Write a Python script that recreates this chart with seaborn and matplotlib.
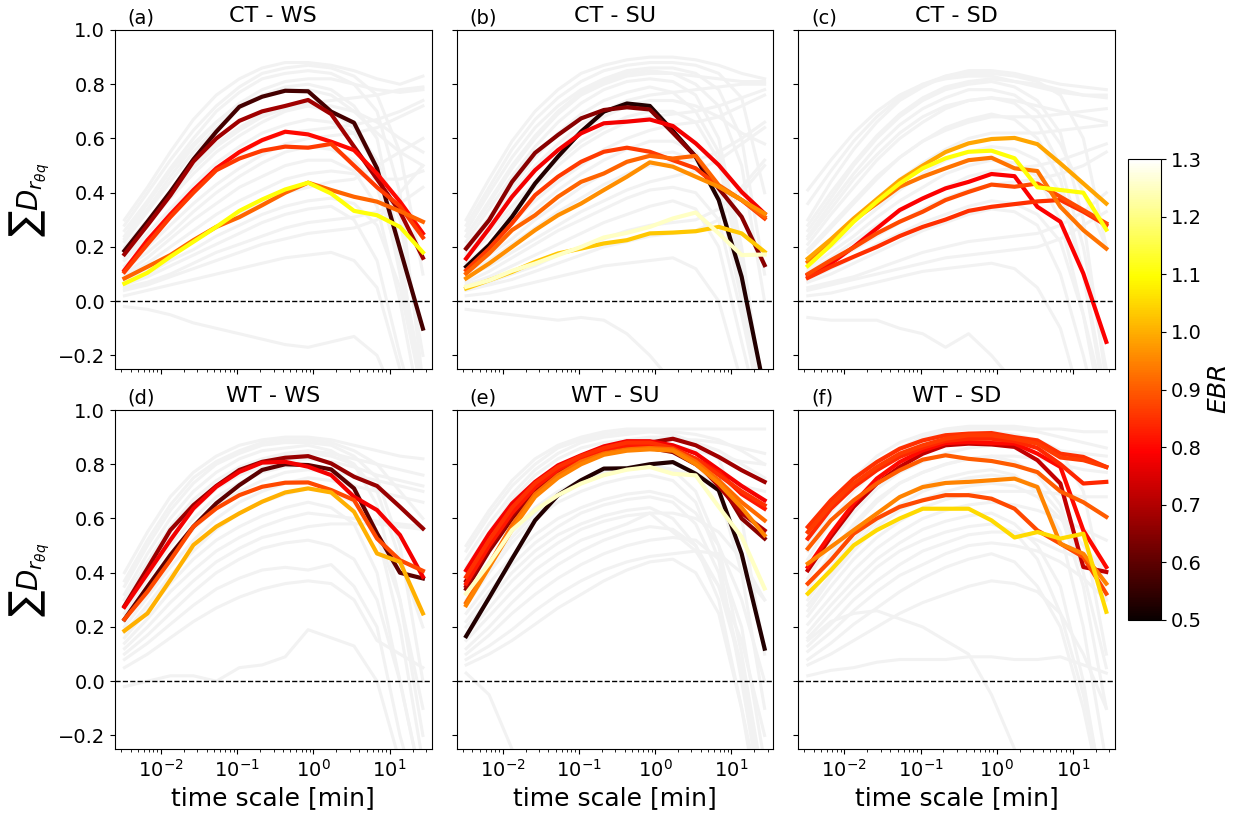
import matplotlib
matplotlib.use("Agg")
import matplotlib.pyplot as plt
import numpy as np
import pandas as pd
import seaborn as sns
from matplotlib.colors import Normalize
from matplotlib.cm import ScalarMappable

# averaging time scales (minutes)
time_scale = [0.00333, 0.00667, 0.0133, 0.0267, 0.0533, 0.107, 0.213,
              0.427, 0.853, 1.71, 3.41, 6.83, 13.65, 27.3]

titles = ["CT - WS", "CT - SU", "CT - SD", "WT - WS", "WT - SU", "WT - SD"]
panel_tags = ["(a)", "(b)", "(c)", "(d)", "(e)", "(f)"]
cbar_ticks = [0.5, 0.6, 0.7, 0.8, 0.9, 1.0, 1.1, 1.2, 1.3]
y_ticks = [-0.2, 0.0, 0.2, 0.4, 0.6, 0.8, 1.0]

# ---- all runs (background) ----
runs_ct_ws = [
    [0.30, 0.42, 0.55, 0.67, 0.76, 0.82, 0.86, 0.88, 0.88, 0.87, 0.85, 0.82, 0.80, 0.83],
    [0.26, 0.37, 0.49, 0.60, 0.70, 0.77, 0.82, 0.84, 0.85, 0.84, 0.80, 0.70, 0.40, -0.30],
    [0.22, 0.33, 0.44, 0.55, 0.64, 0.71, 0.76, 0.79, 0.80, 0.78, 0.72, 0.60, 0.20, -0.40],
    [0.20, 0.30, 0.40, 0.50, 0.58, 0.64, 0.69, 0.72, 0.73, 0.74, 0.75, 0.76, 0.78, 0.79],
    [0.16, 0.25, 0.34, 0.43, 0.51, 0.57, 0.62, 0.65, 0.67, 0.66, 0.62, 0.50, 0.10, -0.35],
    [0.13, 0.20, 0.28, 0.36, 0.43, 0.49, 0.54, 0.58, 0.60, 0.61, 0.62, 0.64, 0.68, 0.72],
    [0.10, 0.16, 0.23, 0.30, 0.36, 0.42, 0.46, 0.50, 0.52, 0.52, 0.48, 0.35, 0.00, -0.45],
    [0.08, 0.12, 0.17, 0.22, 0.27, 0.32, 0.36, 0.40, 0.42, 0.44, 0.45, 0.50, 0.55, 0.60],
    [0.06, 0.09, 0.13, 0.17, 0.21, 0.25, 0.29, 0.32, 0.34, 0.35, 0.30, 0.15, -0.20, -0.50],
    [0.04, 0.06, 0.09, 0.12, 0.15, 0.18, 0.21, 0.23, 0.25, 0.26, 0.27, 0.30, 0.40, 0.50],
    [0.02, 0.04, 0.06, 0.08, 0.10, 0.12, 0.14, 0.16, 0.17, 0.18, 0.15, 0.05, -0.25, -0.60],
    [-0.02, -0.03, -0.05, -0.08, -0.10, -0.12, -0.14, -0.16, -0.17, -0.15, -0.13, -0.20, -0.40, -0.60],
    [0.24, 0.36, 0.48, 0.58, 0.66, 0.72, 0.76, 0.78, 0.78, 0.76, 0.70, 0.62, 0.55, 0.50],
    [0.18, 0.28, 0.38, 0.47, 0.55, 0.61, 0.66, 0.70, 0.72, 0.72, 0.70, 0.66, 0.60, 0.55],
    [0.28, 0.40, 0.52, 0.63, 0.72, 0.79, 0.84, 0.86, 0.87, 0.86, 0.83, 0.76, 0.55, 0.10],
    [0.23, 0.34, 0.46, 0.57, 0.66, 0.73, 0.78, 0.81, 0.82, 0.82, 0.80, 0.78, 0.77, 0.78],
    [0.19, 0.29, 0.39, 0.49, 0.57, 0.63, 0.68, 0.71, 0.72, 0.70, 0.64, 0.52, 0.30, -0.20],
    [0.15, 0.23, 0.31, 0.40, 0.48, 0.54, 0.59, 0.62, 0.63, 0.64, 0.65, 0.67, 0.70, 0.74],
    [0.12, 0.18, 0.25, 0.33, 0.40, 0.46, 0.51, 0.55, 0.57, 0.56, 0.52, 0.42, 0.15, -0.30],
    [0.09, 0.14, 0.20, 0.26, 0.32, 0.37, 0.41, 0.45, 0.47, 0.48, 0.47, 0.45, 0.45, 0.48],
    [0.07, 0.10, 0.15, 0.19, 0.24, 0.28, 0.32, 0.35, 0.37, 0.38, 0.36, 0.28, 0.05, -0.35],
    [0.05, 0.07, 0.10, 0.14, 0.18, 0.21, 0.24, 0.27, 0.29, 0.30, 0.31, 0.33, 0.36, 0.42],
]
runs_ct_su = [
    [0.30, 0.45, 0.59, 0.70, 0.78, 0.84, 0.87, 0.89, 0.90, 0.90, 0.89, 0.87, 0.84, 0.82],
    [0.26, 0.40, 0.53, 0.64, 0.72, 0.78, 0.82, 0.85, 0.86, 0.86, 0.84, 0.78, 0.60, 0.10],
    [0.22, 0.34, 0.46, 0.57, 0.66, 0.73, 0.78, 0.81, 0.82, 0.81, 0.76, 0.60, 0.20, -0.40],
    [0.20, 0.30, 0.40, 0.50, 0.58, 0.65, 0.70, 0.74, 0.76, 0.77, 0.78, 0.79, 0.80, 0.80],
    [0.17, 0.26, 0.35, 0.44, 0.52, 0.59, 0.64, 0.68, 0.70, 0.70, 0.66, 0.52, 0.10, -0.45],
    [0.14, 0.21, 0.29, 0.37, 0.44, 0.50, 0.56, 0.60, 0.63, 0.65, 0.66, 0.68, 0.72, 0.76],
    [0.11, 0.17, 0.23, 0.30, 0.36, 0.42, 0.47, 0.51, 0.54, 0.55, 0.52, 0.40, 0.00, -0.50],
    [0.09, 0.13, 0.18, 0.23, 0.28, 0.33, 0.37, 0.41, 0.44, 0.46, 0.48, 0.52, 0.58, 0.64],
    [0.06, 0.09, 0.13, 0.17, 0.21, 0.25, 0.29, 0.32, 0.35, 0.37, 0.34, 0.20, -0.15, -0.50],
    [0.04, 0.06, 0.08, 0.11, 0.14, 0.17, 0.20, 0.22, 0.24, 0.25, 0.26, 0.30, 0.40, 0.50],
    [0.02, 0.03, 0.05, 0.07, 0.09, 0.11, 0.13, 0.14, 0.15, 0.16, 0.12, 0.00, -0.30, -0.60],
    [-0.03, -0.04, -0.05, -0.06, -0.07, -0.06, -0.07, -0.12, -0.20, -0.30, -0.40, -0.50, -0.60, -0.70],
    [0.24, 0.37, 0.50, 0.61, 0.70, 0.77, 0.81, 0.84, 0.85, 0.84, 0.80, 0.72, 0.50, 0.00],
    [0.18, 0.28, 0.38, 0.48, 0.56, 0.63, 0.68, 0.72, 0.74, 0.74, 0.72, 0.68, 0.62, 0.58],
    [0.28, 0.42, 0.56, 0.67, 0.75, 0.81, 0.85, 0.87, 0.88, 0.88, 0.87, 0.84, 0.75, 0.40],
    [0.24, 0.36, 0.49, 0.60, 0.69, 0.76, 0.80, 0.83, 0.84, 0.84, 0.83, 0.82, 0.81, 0.81],
    [0.20, 0.31, 0.42, 0.53, 0.62, 0.69, 0.74, 0.77, 0.79, 0.77, 0.70, 0.55, 0.15, -0.40],
    [0.16, 0.24, 0.33, 0.42, 0.50, 0.57, 0.62, 0.66, 0.68, 0.69, 0.70, 0.72, 0.75, 0.78],
    [0.12, 0.19, 0.26, 0.34, 0.41, 0.47, 0.52, 0.56, 0.59, 0.59, 0.55, 0.42, 0.05, -0.45],
    [0.10, 0.15, 0.21, 0.27, 0.33, 0.38, 0.43, 0.47, 0.50, 0.51, 0.52, 0.55, 0.60, 0.66],
    [0.07, 0.11, 0.16, 0.21, 0.26, 0.30, 0.34, 0.38, 0.41, 0.42, 0.40, 0.30, -0.05, -0.45],
    [0.05, 0.07, 0.10, 0.13, 0.17, 0.20, 0.23, 0.26, 0.28, 0.29, 0.30, 0.34, 0.42, 0.52],
]
runs_ct_sd = [
    [0.30, 0.44, 0.56, 0.66, 0.74, 0.79, 0.83, 0.85, 0.85, 0.84, 0.82, 0.80, 0.79, 0.78],
    [0.26, 0.38, 0.50, 0.60, 0.68, 0.74, 0.78, 0.80, 0.81, 0.79, 0.74, 0.62, 0.30, -0.30],
    [0.21, 0.32, 0.42, 0.52, 0.60, 0.66, 0.71, 0.74, 0.75, 0.74, 0.72, 0.70, 0.68, 0.66],
    [0.18, 0.27, 0.36, 0.45, 0.53, 0.59, 0.64, 0.67, 0.69, 0.67, 0.60, 0.45, 0.10, -0.40],
    [0.15, 0.22, 0.30, 0.38, 0.45, 0.51, 0.56, 0.60, 0.62, 0.62, 0.62, 0.63, 0.64, 0.65],
    [0.12, 0.18, 0.24, 0.31, 0.37, 0.42, 0.47, 0.50, 0.52, 0.51, 0.46, 0.30, -0.05, -0.50],
    [0.10, 0.14, 0.19, 0.24, 0.29, 0.34, 0.38, 0.41, 0.43, 0.44, 0.45, 0.47, 0.50, 0.55],
    [0.07, 0.10, 0.14, 0.18, 0.22, 0.26, 0.29, 0.32, 0.34, 0.33, 0.28, 0.10, -0.20, -0.55],
    [0.05, 0.07, 0.09, 0.12, 0.15, 0.18, 0.20, 0.22, 0.23, 0.24, 0.25, 0.28, 0.33, 0.40],
    [0.02, 0.03, 0.05, 0.07, 0.09, 0.11, 0.12, 0.13, 0.14, 0.12, 0.05, -0.10, -0.40, -0.70],
    [-0.06, -0.07, -0.07, -0.07, -0.10, -0.12, -0.17, -0.12, -0.20, -0.30, -0.45, -0.60, -0.70, -0.80],
    [0.24, 0.36, 0.47, 0.57, 0.65, 0.71, 0.75, 0.78, 0.78, 0.76, 0.70, 0.58, 0.40, 0.20],
    [0.41, 0.52, 0.62, 0.70, 0.76, 0.80, 0.82, 0.83, 0.83, 0.81, 0.80, 0.78, 0.76, 0.75],
    [0.36, 0.48, 0.59, 0.68, 0.75, 0.80, 0.83, 0.84, 0.84, 0.83, 0.81, 0.76, 0.60, 0.20],
    [0.28, 0.40, 0.51, 0.61, 0.69, 0.75, 0.79, 0.81, 0.82, 0.81, 0.79, 0.77, 0.76, 0.76],
    [0.23, 0.34, 0.45, 0.54, 0.62, 0.68, 0.72, 0.74, 0.75, 0.73, 0.66, 0.50, 0.20, -0.25],
    [0.19, 0.28, 0.37, 0.46, 0.53, 0.59, 0.63, 0.66, 0.68, 0.68, 0.68, 0.69, 0.70, 0.71],
    [0.14, 0.20, 0.27, 0.34, 0.41, 0.47, 0.52, 0.55, 0.57, 0.56, 0.52, 0.40, 0.10, -0.35],
    [0.11, 0.16, 0.22, 0.28, 0.33, 0.38, 0.42, 0.46, 0.48, 0.49, 0.50, 0.52, 0.55, 0.58],
    [0.08, 0.12, 0.16, 0.21, 0.25, 0.29, 0.32, 0.35, 0.37, 0.36, 0.32, 0.22, -0.05, -0.40],
    [0.04, 0.06, 0.08, 0.10, 0.12, 0.14, 0.16, 0.17, 0.18, 0.19, 0.20, 0.23, 0.28, 0.33],
]
runs_wt_ws = [
    [0.40, 0.55, 0.68, 0.77, 0.83, 0.87, 0.89, 0.90, 0.90, 0.89, 0.87, 0.85, 0.83, 0.82],
    [0.35, 0.50, 0.63, 0.73, 0.80, 0.84, 0.87, 0.88, 0.88, 0.87, 0.83, 0.75, 0.50, 0.00],
    [0.30, 0.44, 0.57, 0.67, 0.74, 0.79, 0.82, 0.84, 0.85, 0.84, 0.82, 0.80, 0.78, 0.76],
    [0.25, 0.38, 0.50, 0.60, 0.68, 0.73, 0.77, 0.79, 0.80, 0.78, 0.72, 0.55, 0.20, -0.30],
    [0.20, 0.31, 0.42, 0.52, 0.60, 0.66, 0.70, 0.73, 0.75, 0.74, 0.72, 0.70, 0.68, 0.66],
    [0.16, 0.26, 0.36, 0.45, 0.52, 0.57, 0.61, 0.64, 0.66, 0.64, 0.58, 0.40, 0.00, -0.40],
    [0.12, 0.20, 0.29, 0.37, 0.44, 0.49, 0.53, 0.55, 0.57, 0.58, 0.58, 0.58, 0.57, 0.56],
    [0.08, 0.14, 0.21, 0.28, 0.34, 0.38, 0.41, 0.42, 0.41, 0.43, 0.35, 0.20, -0.20, -0.50],
    [-0.02, 0.00, 0.02, 0.02, 0.00, 0.05, 0.06, 0.09, 0.19, 0.16, 0.13, 0.00, -0.30, -0.60],
    [0.05, 0.10, 0.16, 0.22, 0.27, 0.31, 0.34, 0.36, 0.37, 0.36, 0.30, 0.15, 0.10, 0.05],
    [0.28, 0.42, 0.55, 0.65, 0.72, 0.77, 0.81, 0.83, 0.84, 0.83, 0.80, 0.70, 0.45, 0.20],
    [0.22, 0.34, 0.46, 0.56, 0.64, 0.70, 0.74, 0.77, 0.78, 0.77, 0.76, 0.74, 0.72, 0.70],
    [0.37, 0.52, 0.65, 0.75, 0.81, 0.85, 0.88, 0.89, 0.89, 0.88, 0.85, 0.80, 0.70, 0.60],
    [0.32, 0.47, 0.60, 0.70, 0.77, 0.82, 0.85, 0.86, 0.87, 0.85, 0.80, 0.65, 0.30, -0.20],
    [0.27, 0.40, 0.53, 0.63, 0.71, 0.76, 0.79, 0.81, 0.82, 0.81, 0.79, 0.76, 0.74, 0.72],
    [0.18, 0.28, 0.39, 0.48, 0.56, 0.62, 0.66, 0.69, 0.71, 0.70, 0.66, 0.55, 0.30, -0.10],
    [0.14, 0.23, 0.33, 0.41, 0.48, 0.53, 0.57, 0.60, 0.62, 0.61, 0.60, 0.59, 0.58, 0.57],
    [0.10, 0.17, 0.25, 0.33, 0.40, 0.45, 0.49, 0.51, 0.52, 0.50, 0.45, 0.30, 0.00, -0.40],
]
runs_wt_su = [
    [0.50, 0.63, 0.74, 0.82, 0.87, 0.90, 0.92, 0.93, 0.93, 0.93, 0.93, 0.93, 0.93, 0.93],
    [0.45, 0.58, 0.69, 0.78, 0.84, 0.88, 0.90, 0.91, 0.92, 0.91, 0.88, 0.82, 0.60, 0.10],
    [0.40, 0.53, 0.64, 0.73, 0.79, 0.83, 0.86, 0.88, 0.89, 0.89, 0.89, 0.88, 0.86, 0.84],
    [0.32, 0.44, 0.55, 0.64, 0.70, 0.74, 0.77, 0.79, 0.80, 0.78, 0.70, 0.50, 0.10, -0.40],
    [0.25, 0.36, 0.46, 0.54, 0.60, 0.64, 0.67, 0.69, 0.70, 0.68, 0.62, 0.50, 0.30, 0.00],
    [0.20, 0.30, 0.40, 0.48, 0.54, 0.58, 0.61, 0.63, 0.64, 0.60, 0.50, 0.30, -0.10, -0.50],
    [0.15, 0.24, 0.33, 0.41, 0.47, 0.52, 0.55, 0.58, 0.62, 0.55, 0.48, 0.35, 0.15, -0.20],
    [0.10, 0.17, 0.25, 0.32, 0.38, 0.43, 0.47, 0.50, 0.52, 0.53, 0.52, 0.45, 0.20, -0.30],
    [0.06, 0.10, 0.15, 0.21, 0.27, 0.32, 0.37, 0.41, 0.44, 0.45, 0.40, 0.25, -0.10, -0.60],
    [0.03, -0.05, -0.25, -0.45, -0.60, -0.70, -0.75, -0.80, -0.85, -0.90, -0.90, -0.90, -0.90, -0.90],
    [0.35, 0.48, 0.60, 0.70, 0.77, 0.82, 0.85, 0.87, 0.88, 0.87, 0.85, 0.83, 0.81, 0.80],
    [0.28, 0.40, 0.51, 0.60, 0.66, 0.70, 0.73, 0.75, 0.76, 0.74, 0.66, 0.45, 0.00, -0.50],
    [0.48, 0.61, 0.72, 0.80, 0.86, 0.89, 0.91, 0.92, 0.92, 0.92, 0.91, 0.89, 0.85, 0.80],
    [0.42, 0.55, 0.67, 0.76, 0.82, 0.86, 0.88, 0.89, 0.90, 0.90, 0.88, 0.85, 0.80, 0.75],
    [0.37, 0.50, 0.62, 0.71, 0.78, 0.82, 0.85, 0.86, 0.87, 0.85, 0.80, 0.70, 0.40, -0.10],
    [0.30, 0.42, 0.53, 0.62, 0.68, 0.73, 0.76, 0.78, 0.79, 0.78, 0.76, 0.74, 0.72, 0.70],
    [0.22, 0.33, 0.43, 0.51, 0.57, 0.62, 0.65, 0.67, 0.68, 0.66, 0.58, 0.40, 0.05, -0.40],
    [0.17, 0.27, 0.37, 0.45, 0.51, 0.56, 0.59, 0.61, 0.62, 0.62, 0.60, 0.55, 0.45, 0.30],
    [0.12, 0.20, 0.29, 0.37, 0.43, 0.48, 0.52, 0.55, 0.57, 0.56, 0.50, 0.35, 0.05, -0.45],
    [0.08, 0.13, 0.19, 0.26, 0.32, 0.37, 0.41, 0.44, 0.46, 0.47, 0.48, 0.47, 0.40, 0.30],
]
runs_wt_sd = [
    [0.50, 0.64, 0.75, 0.83, 0.88, 0.91, 0.93, 0.94, 0.94, 0.94, 0.93, 0.93, 0.92, 0.92],
    [0.45, 0.59, 0.70, 0.78, 0.84, 0.88, 0.90, 0.91, 0.92, 0.91, 0.89, 0.85, 0.70, 0.30],
    [0.38, 0.51, 0.62, 0.71, 0.77, 0.81, 0.84, 0.86, 0.87, 0.87, 0.86, 0.85, 0.84, 0.83],
    [0.30, 0.42, 0.52, 0.61, 0.68, 0.72, 0.75, 0.77, 0.78, 0.76, 0.70, 0.55, 0.20, -0.30],
    [0.24, 0.35, 0.45, 0.53, 0.59, 0.64, 0.67, 0.69, 0.70, 0.70, 0.70, 0.69, 0.68, 0.68],
    [0.18, 0.28, 0.37, 0.45, 0.51, 0.56, 0.59, 0.61, 0.62, 0.58, 0.50, 0.35, 0.00, -0.50],
    [0.13, 0.21, 0.30, 0.37, 0.43, 0.48, 0.51, 0.54, 0.55, 0.55, 0.52, 0.48, 0.45, 0.42],
    [0.08, 0.14, 0.21, 0.27, 0.33, 0.38, 0.42, 0.45, 0.47, 0.44, 0.35, 0.20, -0.10, -0.50],
    [0.02, 0.04, 0.05, 0.07, 0.08, 0.08, 0.08, 0.09, 0.09, 0.08, 0.08, 0.09, 0.06, 0.03],
    [0.15, 0.22, 0.25, 0.26, 0.23, 0.20, 0.15, 0.10, -0.05, -0.25, -0.45, -0.60, -0.70, -0.80],
    [0.34, 0.47, 0.58, 0.67, 0.73, 0.77, 0.80, 0.82, 0.83, 0.81, 0.76, 0.65, 0.40, 0.05],
    [0.26, 0.38, 0.48, 0.57, 0.63, 0.67, 0.70, 0.72, 0.73, 0.72, 0.68, 0.60, 0.50, 0.40],
    [0.48, 0.62, 0.73, 0.81, 0.86, 0.90, 0.92, 0.93, 0.93, 0.93, 0.92, 0.90, 0.88, 0.86],
    [0.41, 0.55, 0.66, 0.75, 0.81, 0.85, 0.87, 0.88, 0.89, 0.89, 0.87, 0.80, 0.55, 0.10],
    [0.34, 0.46, 0.57, 0.66, 0.73, 0.77, 0.80, 0.82, 0.83, 0.83, 0.82, 0.80, 0.78, 0.77],
    [0.28, 0.39, 0.50, 0.59, 0.65, 0.70, 0.73, 0.75, 0.76, 0.75, 0.72, 0.62, 0.35, -0.10],
    [0.21, 0.31, 0.41, 0.49, 0.55, 0.60, 0.63, 0.65, 0.66, 0.65, 0.63, 0.60, 0.56, 0.52],
    [0.16, 0.25, 0.34, 0.42, 0.48, 0.52, 0.55, 0.57, 0.58, 0.55, 0.45, 0.25, -0.05, -0.45],
    [0.11, 0.18, 0.26, 0.33, 0.39, 0.43, 0.47, 0.50, 0.51, 0.50, 0.48, 0.44, 0.38, 0.30],
    [0.06, 0.10, 0.15, 0.20, 0.25, 0.29, 0.32, 0.35, 0.37, 0.36, 0.33, 0.25, 0.10, -0.10],
]

# ---- highlighted runs: EBR of each run and its curve ----
ebr_ct_ws = [0.57, 0.68, 0.80, 0.86, 0.91, 1.10]
sel_ct_ws = [
    [0.186, 0.293, 0.403, 0.523, 0.625, 0.717, 0.754, 0.776, 0.774, 0.699, 0.658, 0.490, 0.194, -0.101],
    [0.173, 0.280, 0.390, 0.515, 0.600, 0.665, 0.700, 0.720, 0.742, 0.690, 0.570, 0.450, 0.330, 0.160],
    [0.114, 0.225, 0.320, 0.410, 0.490, 0.550, 0.594, 0.625, 0.615, 0.588, 0.557, 0.470, 0.367, 0.250],
    [0.108, 0.210, 0.310, 0.400, 0.483, 0.526, 0.555, 0.570, 0.566, 0.580, 0.500, 0.420, 0.350, 0.235],
    [0.084, 0.127, 0.170, 0.225, 0.274, 0.310, 0.354, 0.400, 0.437, 0.410, 0.385, 0.367, 0.332, 0.293],
    [0.065, 0.105, 0.164, 0.219, 0.274, 0.333, 0.375, 0.412, 0.437, 0.397, 0.333, 0.317, 0.274, 0.180],
]
ebr_ct_su = [0.53, 0.65, 0.78, 0.86, 0.91, 0.96, 1.03, 1.25]
sel_ct_su = [
    [0.127, 0.207, 0.311, 0.434, 0.533, 0.625, 0.699, 0.729, 0.720, 0.628, 0.533, 0.373, 0.090, -0.330],
    [0.194, 0.299, 0.440, 0.547, 0.613, 0.674, 0.705, 0.715, 0.707, 0.621, 0.533, 0.416, 0.311, 0.133],
    [0.157, 0.268, 0.385, 0.483, 0.557, 0.619, 0.656, 0.662, 0.670, 0.646, 0.582, 0.502, 0.403, 0.323],
    [0.114, 0.194, 0.287, 0.391, 0.459, 0.514, 0.551, 0.566, 0.551, 0.520, 0.490, 0.422, 0.373, 0.305],
    [0.102, 0.176, 0.262, 0.317, 0.385, 0.440, 0.471, 0.514, 0.536, 0.526, 0.536, 0.428, 0.373, 0.311],
    [0.084, 0.139, 0.200, 0.262, 0.317, 0.360, 0.410, 0.459, 0.512, 0.496, 0.459, 0.422, 0.373, 0.323],
    [0.047, 0.077, 0.108, 0.145, 0.176, 0.194, 0.213, 0.225, 0.250, 0.253, 0.258, 0.274, 0.250, 0.182],
    [0.053, 0.077, 0.112, 0.139, 0.170, 0.200, 0.235, 0.252, 0.274, 0.305, 0.327, 0.250, 0.170, 0.172],
]
ebr_ct_sd = [0.79, 0.85, 0.88, 0.93, 0.99, 1.10]
sel_ct_sd = [
    [0.096, 0.139, 0.200, 0.268, 0.336, 0.379, 0.416, 0.440, 0.469, 0.461, 0.348, 0.293, 0.102, -0.150],
    [0.086, 0.127, 0.164, 0.200, 0.240, 0.274, 0.301, 0.333, 0.348, 0.358, 0.368, 0.373, 0.330, 0.280],
    [0.100, 0.151, 0.198, 0.250, 0.293, 0.330, 0.373, 0.403, 0.430, 0.422, 0.434, 0.385, 0.336, 0.287],
    [0.145, 0.219, 0.299, 0.360, 0.422, 0.459, 0.490, 0.520, 0.529, 0.490, 0.480, 0.348, 0.262, 0.194],
    [0.157, 0.228, 0.305, 0.376, 0.446, 0.500, 0.550, 0.582, 0.598, 0.602, 0.579, 0.508, 0.434, 0.360],
    [0.130, 0.207, 0.293, 0.367, 0.434, 0.490, 0.527, 0.551, 0.555, 0.527, 0.420, 0.410, 0.400, 0.264],
]
ebr_wt_ws = [0.60, 0.67, 0.78, 0.88, 1.00]
sel_wt_ws = [
    [0.228, 0.348, 0.465, 0.570, 0.656, 0.723, 0.779, 0.800, 0.797, 0.781, 0.711, 0.545, 0.400, 0.379],
    [0.277, 0.416, 0.557, 0.649, 0.720, 0.779, 0.809, 0.824, 0.830, 0.803, 0.754, 0.720, 0.643, 0.563],
    [0.274, 0.397, 0.520, 0.637, 0.717, 0.772, 0.806, 0.809, 0.791, 0.760, 0.680, 0.631, 0.539, 0.385],
    [0.228, 0.330, 0.446, 0.570, 0.637, 0.686, 0.717, 0.732, 0.733, 0.705, 0.668, 0.526, 0.446, 0.407],
    [0.186, 0.250, 0.373, 0.502, 0.570, 0.619, 0.662, 0.696, 0.711, 0.696, 0.625, 0.471, 0.440, 0.250],
]
ebr_wt_su = [0.53, 1.25, 0.68, 0.78, 0.85, 0.82, 0.65, 0.70, 0.95, 0.92]
sel_wt_su = [
    [0.166, 0.308, 0.451, 0.593, 0.686, 0.741, 0.784, 0.785, 0.800, 0.808, 0.765, 0.704, 0.470, 0.120],
    [0.323, 0.434, 0.557, 0.630, 0.686, 0.729, 0.760, 0.780, 0.790, 0.765, 0.759, 0.643, 0.532, 0.342],
    [0.370, 0.500, 0.630, 0.720, 0.780, 0.820, 0.850, 0.870, 0.880, 0.894, 0.870, 0.827, 0.778, 0.735],
    [0.409, 0.544, 0.655, 0.735, 0.796, 0.833, 0.866, 0.885, 0.885, 0.870, 0.840, 0.780, 0.720, 0.667],
    [0.385, 0.520, 0.640, 0.730, 0.790, 0.830, 0.860, 0.880, 0.880, 0.860, 0.820, 0.760, 0.700, 0.649],
    [0.360, 0.500, 0.620, 0.715, 0.780, 0.825, 0.855, 0.870, 0.870, 0.855, 0.820, 0.770, 0.690, 0.636],
    [0.340, 0.480, 0.600, 0.700, 0.770, 0.815, 0.845, 0.860, 0.860, 0.845, 0.800, 0.740, 0.600, 0.526],
    [0.350, 0.490, 0.610, 0.710, 0.775, 0.820, 0.850, 0.860, 0.865, 0.850, 0.810, 0.720, 0.620, 0.556],
    [0.280, 0.420, 0.560, 0.680, 0.750, 0.800, 0.835, 0.850, 0.855, 0.850, 0.800, 0.730, 0.640, 0.538],
    [0.290, 0.430, 0.575, 0.690, 0.760, 0.810, 0.840, 0.855, 0.860, 0.855, 0.810, 0.740, 0.660, 0.593],
]
ebr_wt_sd = [1.05, 0.88, 0.95, 0.72, 0.80, 0.90, 0.85, 0.86, 0.84]
sel_wt_sd = [
    [0.323, 0.409, 0.501, 0.557, 0.600, 0.636, 0.636, 0.636, 0.593, 0.530, 0.550, 0.526, 0.544, 0.256],
    [0.360, 0.446, 0.544, 0.600, 0.643, 0.667, 0.686, 0.686, 0.673, 0.636, 0.556, 0.507, 0.458, 0.323],
    [0.434, 0.495, 0.557, 0.618, 0.679, 0.716, 0.731, 0.735, 0.741, 0.747, 0.716, 0.507, 0.470, 0.360],
    [0.409, 0.532, 0.643, 0.729, 0.790, 0.839, 0.870, 0.876, 0.873, 0.864, 0.815, 0.729, 0.421, 0.403],
    [0.421, 0.544, 0.655, 0.747, 0.808, 0.851, 0.878, 0.882, 0.878, 0.876, 0.839, 0.790, 0.556, 0.421],
    [0.489, 0.593, 0.667, 0.729, 0.778, 0.817, 0.833, 0.820, 0.812, 0.796, 0.771, 0.700, 0.660, 0.606],
    [0.569, 0.667, 0.747, 0.808, 0.857, 0.888, 0.907, 0.913, 0.915, 0.900, 0.888, 0.839, 0.827, 0.790],
    [0.550, 0.649, 0.729, 0.790, 0.839, 0.870, 0.894, 0.907, 0.907, 0.894, 0.876, 0.825, 0.815, 0.790],
    [0.526, 0.636, 0.716, 0.778, 0.827, 0.861, 0.886, 0.894, 0.894, 0.885, 0.860, 0.800, 0.729, 0.735],
]

all_runs = [runs_ct_ws, runs_ct_su, runs_ct_sd, runs_wt_ws, runs_wt_su, runs_wt_sd]
sel_runs = [sel_ct_ws, sel_ct_su, sel_ct_sd, sel_wt_ws, sel_wt_su, sel_wt_sd]
sel_ebr = [ebr_ct_ws, ebr_ct_su, ebr_ct_sd, ebr_wt_ws, ebr_wt_su, ebr_wt_sd]


def to_long(curves, ebr=None):
    rows = []
    for i, curve in enumerate(curves):
        for t, d in zip(time_scale, curve):
            rows.append((i, t, d, ebr[i] if ebr is not None else np.nan))
    return pd.DataFrame(rows, columns=["run", "t", "D", "EBR"])


ebr_norm = Normalize(vmin=0.5, vmax=1.3)

fig = plt.figure(figsize=(12.44, 8.13), dpi=100)
axes = fig.subplots(2, 3, sharex=True, sharey=True)
fig.subplots_adjust(left=0.0924, right=0.8963, top=0.9631, bottom=0.0787,
                    wspace=0.079, hspace=0.121)

for k, ax in enumerate(axes.flat):
    ax.set_xscale("log")
    sns.lineplot(data=to_long(all_runs[k]), x="t", y="D", units="run",
                 estimator=None, sort=False, color="#f2f2f2", lw=2.2,
                 ax=ax, legend=False)
    sns.lineplot(data=to_long(sel_runs[k], sel_ebr[k]), x="t", y="D",
                 units="run", hue="EBR", palette="hot", hue_norm=ebr_norm,
                 estimator=None, sort=False, lw=3, ax=ax, legend=False)
    ax.axhline(0, color="black", ls="--", lw=1)
    ax.set_xlim(0.0025, 35.5)
    ax.set_ylim(-0.25, 1.0)
    ax.set_yticks(y_ticks)
    ax.tick_params(labelsize=14)
    ax.set_title(titles[k], fontsize=16)
    ax.text(0.04, 1.008, panel_tags[k], transform=ax.transAxes,
            fontsize=14, va="bottom", ha="left")
    ax.set_xlabel("")
    ax.set_ylabel("")

for ax in axes[1]:
    ax.set_xlabel("time scale [min]", fontsize=18)
for ax in axes[:, 0]:
    ax.set_ylabel(r"$\sum D_{r_{\theta q}}$", fontsize=20)

cax = fig.add_axes([0.9068, 0.2374, 0.0265, 0.567])
cb = fig.colorbar(ScalarMappable(norm=ebr_norm, cmap="hot"), cax=cax,
                  ticks=cbar_ticks)
cb.set_label("$EBR$", fontsize=18)
cb.ax.tick_params(labelsize=14)

fig.savefig("out.png", dpi=100)
